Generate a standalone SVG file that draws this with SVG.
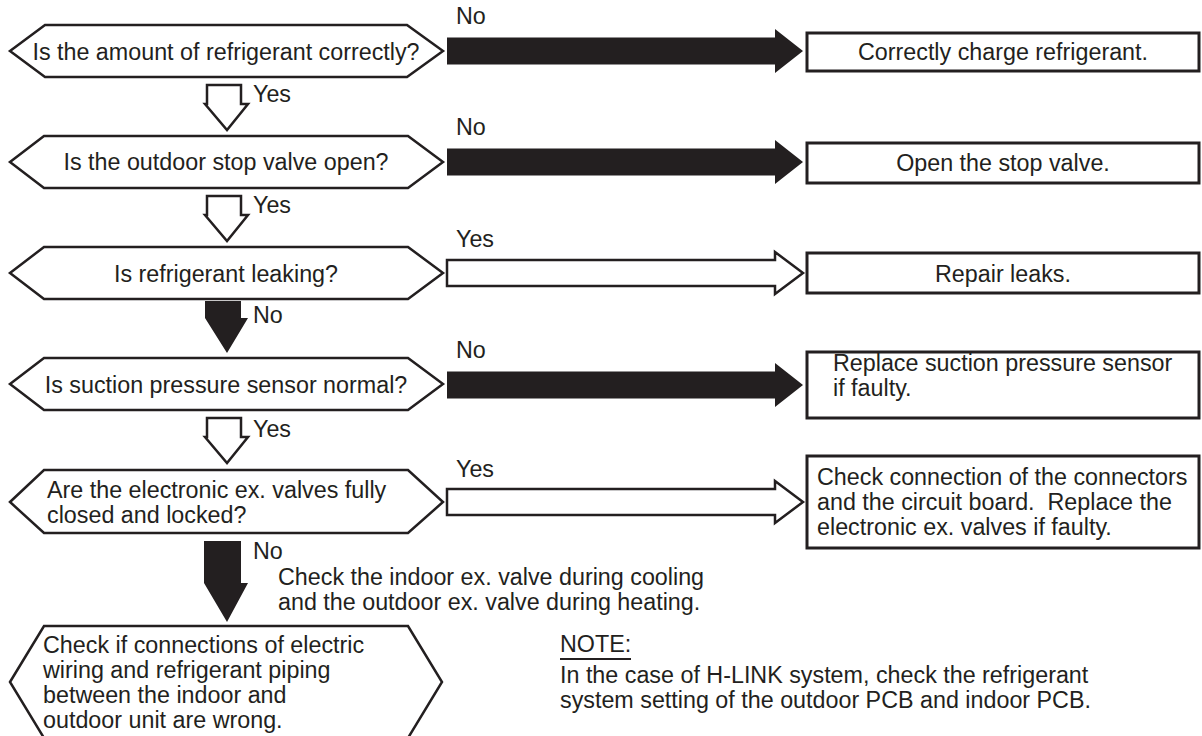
<svg xmlns="http://www.w3.org/2000/svg" width="1202" height="736" viewBox="0 0 1202 736">
<style>
text{font-family:"Liberation Sans",Arial,Helvetica,sans-serif;font-size:23.3px;fill:#231f20}
.c{text-anchor:middle}
.shape{fill:#fff;stroke:#231f20;stroke-width:2.5;stroke-linejoin:miter}
.box{fill:#fff;stroke:#231f20;stroke-width:3}
.solid{fill:#231f20;stroke:none}
.hollow{fill:#fff;stroke:#231f20;stroke-width:2.5}
</style>
<rect width="1202" height="736" fill="#fff"/>
<g id="connectors">
<path class="solid" d="M447,37.5 L775,37.5 L775,29 L803,51 L775,73 L775,64.5 L447,64.5 Z"/>
<path class="solid" d="M447,148.5 L775,148.5 L775,140 L803,162 L775,184 L775,175.5 L447,175.5 Z"/>
<path class="hollow" d="M447,260 L775,260 L775,252 L803,273 L775,294 L775,286 L447,286 Z"/>
<path class="solid" d="M447,371.5 L775,371.5 L775,363 L803,385 L775,407 L775,398.5 L447,398.5 Z"/>
<path class="hollow" d="M447,489 L775,489 L775,481 L803,502 L775,523 L775,515 L447,515 Z"/>
<path class="hollow" d="M207,85 L241,85 L241,104 L248,104 L227,130 L205,104 L207,104 Z"/>
<path class="hollow" d="M207,196 L241,196 L241,215 L248,215 L227,241 L205,215 L207,215 Z"/>
<path class="solid" d="M205,301 L241,301 L241,318 L248,318 L227,353 L205,318 Z"/>
<path class="hollow" d="M207,418 L241,418 L241,437 L248,437 L227,463 L205,437 L207,437 Z"/>
<path class="solid" d="M204,541 L241,541 L241,583 L248,583 L227,622 L204,583 Z"/>
<text x="456" y="24">No</text>
<text x="456" y="135">No</text>
<text x="456" y="247">Yes</text>
<text x="456" y="358">No</text>
<text x="456" y="477">Yes</text>
<text x="253" y="102">Yes</text>
<text x="253" y="213">Yes</text>
<text x="253" y="323">No</text>
<text x="253" y="437">Yes</text>
<text x="253" y="559">No</text>
</g>
<g id="q1">
<polygon class="shape" points="10,51 45,25 407,25 443,51 407,77 45,77"/>
<text class="c" x="226" y="60">Is the amount of refrigerant correctly?</text>
</g>
<g id="q2">
<polygon class="shape" points="10,162 44,136 408,136 443,162 408,188 44,188"/>
<text class="c" x="226" y="170">Is the outdoor stop valve open?</text>
</g>
<g id="q3">
<polygon class="shape" points="10,273 44,247 408,247 443,273 408,299 44,299"/>
<text class="c" x="226" y="282">Is refrigerant leaking?</text>
</g>
<g id="q4">
<polygon class="shape" points="10,384 44,358 408,358 443,384 408,410 44,410"/>
<text class="c" x="226" y="393">Is suction pressure sensor normal?</text>
</g>
<g id="q5">
<polygon class="shape" points="10,502 44,470 408,470 443,502 408,533 44,533"/>
<text x="47" y="498">Are the electronic ex. valves fully</text>
<text x="47" y="523">closed and locked?</text>
</g>
<g id="q6">
<polygon class="shape" points="10,682 44,626 408,626 442,682 408,738 44,738"/>
<text x="43" y="653">Check if connections of electric</text>
<text x="43" y="678">wiring and refrigerant piping</text>
<text x="43" y="703">between the indoor and</text>
<text x="43" y="728">outdoor unit are wrong.</text>
</g>
<g id="a1">
<rect class="box" x="807" y="33" width="392" height="38"/>
<text class="c" x="1003" y="60">Correctly charge refrigerant.</text>
</g>
<g id="a2">
<rect class="box" x="807" y="143" width="392" height="40"/>
<text class="c" x="1003" y="171">Open the stop valve.</text>
</g>
<g id="a3">
<rect class="box" x="807" y="253" width="392" height="40"/>
<text class="c" x="1003" y="282">Repair leaks.</text>
</g>
<g id="a4">
<rect class="box" x="807" y="352" width="392" height="66"/>
<text x="833" y="371">Replace suction pressure sensor</text>
<text x="833" y="396">if faulty.</text>
</g>
<g id="a5">
<rect class="box" x="807" y="456" width="392" height="92"/>
<text x="817" y="485">Check connection of the connectors</text>
<text x="817" y="510" xml:space="preserve">and the circuit board.  Replace the</text>
<text x="817" y="535">electronic ex. valves if faulty.</text>
</g>
<g id="hint">
<text x="278" y="585">Check the indoor ex. valve during cooling</text>
<text x="278" y="610">and the outdoor ex. valve during heating.</text>
</g>
<g id="note">
<text x="560" y="652">NOTE:</text>
<line x1="560" y1="659" x2="631" y2="659" stroke="#231f20" stroke-width="2"/>
<text x="560" y="683">In the case of H-LINK system, check the refrigerant</text>
<text x="560" y="708">system setting of the outdoor PCB and indoor PCB.</text>
</g>
</svg>
